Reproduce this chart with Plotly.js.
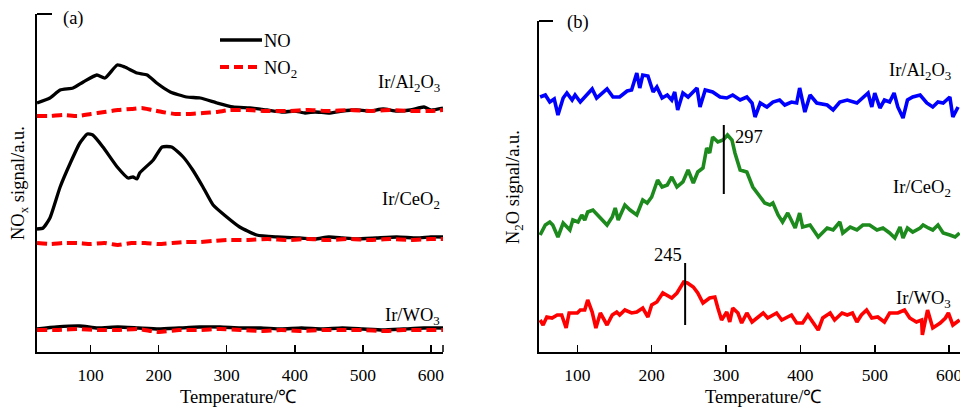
<!DOCTYPE html>
<html>
<head>
<meta charset="utf-8">
<script src="https://cdn.plot.ly/plotly-3.0.1.min.js"></script>
<style>
html,body{margin:0;padding:0;overflow:hidden;background:#fff;width:960px;height:407px;}
#chart{width:1000px;height:407px;}
</style>
</head>
<body>
<div id="chart"></div>
<script>
// ---------- Panel (a): NOx signal (a.u., stacked with offsets) vs temperature (°C) ----------
const tNO_Al = [21,40,55,74,89,109,121,139,150,168,183,197,217,241,261,286,309,334,359,383,400,415,430,450,470,490,510,530,550,570,590,600,618];
const vNO_Al = [249,254,262,264,270,277,274,287,285,279,277,269,260,255,254,249,245,244,242,240,241,239,240,239,241,242,241,243,241,242,245,242,244];
const tNO2_Al = [21,40,60,80,100,120,140,160,175,190,205,225,245,265,285,305,330,360,390,420,450,480,510,540,570,600,618];
const vNO2_Al = [236,236,237,236,238,240,242,243,244,242,240,238,238,239,240,242,242,241,241,242,241,242,241,242,241,241,242];

const tNO_Ce = [21,30,40,55,70,84,95,103,118,139,155,162,168,172,192,205,219,236,250,265,280,300,319,344,374,407,430,450,470,490,520,550,580,600,618];
const vNO_Ce = [123,124,134,165,189,209,218,217,205,185,174,175,173,179,192,205,205,195,182,165,147,135,125,117,115,114,113,115,114,113,114,115,114,115,115];
const tNO2_Ce = [21,40,60,80,100,120,140,160,180,200,220,240,260,280,300,330,360,390,420,450,480,510,540,570,600,618];
const vNO2_Ce = [109,108,109,109,108,109,107,109,109,108,109,110,110,111,112,112,113,112,113,112,113,112,113,112,113,113];

const tNO_W = [21,50,84,110,140,170,200,230,260,290,320,350,380,410,440,470,500,530,560,590,618];
const vNO_W = [23,25,26,24,25,24,23,24,25,25,24,24,23,24,23,24,23,22,23,24,24];
const tNO2_W = [21,50,80,110,140,170,200,230,260,290,320,350,380,410,440,470,500,530,560,590,618];
const vNO2_W = [22,22,23,22,22,23,20,22,22,23,22,21,22,21,22,22,22,21,22,22,22];

// ---------- Panel (b): N2O signal (a.u., stacked) vs temperature (°C) ----------
const tAl = [50,57,63,69,74,81,86,93,97,104,120,126,140,148,157,167,173,180,184,188,195,202,207,214,221,227,231,235,242,249,261,265,272,282,292,301,309,319,328,335,339,346,355,363,372,379,388,395,399,406,413,422,436,444,453,463,476,484,491,496,500,507,513,520,526,531,538,544,551,561,570,578,585,592,601,605,612];
const vAl = [255,257,250,253,237,254,259,252,257,250,263,254,263,255,255,261,262,279,264,277,276,260,265,254,257,252,260,242,259,255,264,245,262,260,255,254,257,252,255,249,235,249,245,250,252,247,250,249,264,240,257,249,247,242,250,252,249,254,259,245,259,244,252,250,259,245,234,252,255,257,249,245,250,249,255,235,245];

const tCe = [50,57,63,67,74,81,90,94,101,106,110,114,121,131,140,147,151,155,164,171,180,188,194,200,208,214,221,227,234,242,249,256,262,269,274,278,282,289,296,302,308,312,319,328,336,346,352,359,363,370,376,383,393,399,403,413,424,436,444,453,457,467,476,484,493,503,511,520,527,534,538,544,551,561,565,572,578,585,592,601,608,614];
const vCe = [117,127,130,127,115,129,122,132,130,137,132,140,142,134,127,135,144,132,147,142,137,152,149,155,172,165,167,175,165,170,182,169,180,184,204,199,215,210,212,217,212,199,182,180,165,155,149,147,149,137,130,139,124,139,125,127,115,124,122,130,119,125,122,127,127,122,124,119,114,125,114,124,120,124,127,124,122,127,119,117,115,119];

const tW = [50,54,59,66,73,79,85,89,100,104,110,114,120,125,131,140,147,153,157,164,173,180,188,195,200,207,215,227,234,243,248,256,262,269,278,285,289,294,301,305,309,316,321,328,335,341,350,356,368,375,388,395,403,410,417,424,430,440,446,456,463,470,476,482,489,496,504,513,520,531,540,547,556,563,564,571,578,588,595,599,605,614];
const vW = [32,27,35,34,37,37,24,39,39,42,42,52,40,24,39,27,37,40,37,42,39,40,44,35,47,50,59,54,59,70,69,65,59,49,54,55,44,32,40,30,44,39,29,39,30,34,39,34,39,32,37,29,29,37,30,22,34,39,32,39,37,39,30,37,42,34,35,30,39,39,42,34,30,32,17,42,24,29,34,39,27,32];

const xTicks = [100,200,300,400,500,600];
const peakCe = 297, peakW = 245;

// ---------- figure ----------
const W = 1000, H = 407;
const px = v => v / W;
const py = v => (H - v) / H;
const FONT = "Liberation Serif, Times New Roman, serif";
const RED = "#ff0000", GREEN = "#1d8a1d", BLUE = "#0000ff";

function solidA(x, y){ return {x, y, xaxis:'x', yaxis:'y', mode:'lines', line:{color:'#000', width:3.3, shape:'spline', smoothing:0.5}, hoverinfo:'skip'}; }
function dashA(x, y){ return {x, y, xaxis:'x', yaxis:'y', mode:'lines', line:{color:RED, width:4, dash:'10px,5px', shape:'spline', smoothing:0.5}, hoverinfo:'skip'}; }
function lineB(x, y, c){ return {x, y, xaxis:'x2', yaxis:'y2', mode:'lines', line:{color:c, width:3.6}, hoverinfo:'skip'}; }

const data = [
  solidA(tNO_Al, vNO_Al), dashA(tNO2_Al, vNO2_Al),
  solidA(tNO_Ce, vNO_Ce), dashA(tNO2_Ce, vNO2_Ce),
  solidA(tNO_W, vNO_W), dashA(tNO2_W, vNO2_W),
  lineB(tAl, vAl, BLUE), lineB(tCe, vCe, GREEN), lineB(tW, vW, RED)
];

const xbase = {
  showline:true, linecolor:'#000', linewidth:2, showgrid:false, zeroline:false,
  ticks:'inside', ticklen:7, tickwidth:1.5, tickcolor:'#000',
  tickvals:xTicks, ticktext:xTicks.map(String),
  tickfont:{family:FONT, size:17.5, color:'#000'}, ticklabelstandoff:6,
  fixedrange:true
};
const ybase = {showline:true, linecolor:'#000', linewidth:2, showgrid:false, zeroline:false, ticks:'', showticklabels:false, fixedrange:true};

const annFont = {family:FONT, size:18.5, color:'#000'};
const ann = (o) => Object.assign({showarrow:false, font:annFont}, o);

const layout = {
  width:W, height:H, margin:{l:0, r:0, t:0, b:0},
  paper_bgcolor:'#fff', plot_bgcolor:'rgba(0,0,0,0)', showlegend:false,
  xaxis: Object.assign({}, xbase, {domain:[px(37), px(443)], range:[21, 618], anchor:'y'}),
  yaxis: Object.assign({}, ybase, {domain:[py(352), py(14)], range:[0, 338], anchor:'x'}),
  xaxis2: Object.assign({}, xbase, {domain:[px(539), px(964)], range:[48.5, 620], anchor:'y2'}),
  yaxis2: Object.assign({}, ybase, {domain:[py(352), py(21)], range:[0, 331], anchor:'x2'}),
  shapes: [
    // top caps of y axes
    {type:'line', xref:'paper', yref:'paper', x0:px(37), x1:px(52), y0:py(14), y1:py(14), line:{color:'#000', width:2}},
    {type:'line', xref:'paper', yref:'paper', x0:px(539), x1:px(553), y0:py(21), y1:py(21), line:{color:'#000', width:2}},
    // right end cap of axis (a)
    {type:'line', xref:'paper', yref:'paper', x0:px(443), x1:px(443), y0:py(352), y1:py(345), line:{color:'#000', width:1.5}},
    // legend samples
    {type:'line', xref:'paper', yref:'paper', x0:px(220), x1:px(262), y0:py(40), y1:py(40), line:{color:'#000', width:3.3}},
    {type:'line', xref:'paper', yref:'paper', x0:px(220), x1:px(262), y0:py(67), y1:py(67), line:{color:RED, width:4, dash:'9px,5px'}},
    // peak markers
    {type:'line', xref:'x2', yref:'y2', x0:peakCe, x1:peakCe, y0:158, y1:227, line:{color:'#000', width:2}},
    {type:'line', xref:'x2', yref:'y2', x0:peakW, x1:peakW, y0:27, y1:89, line:{color:'#000', width:2}}
  ],
  annotations: [
    ann({text:'(a)', xref:'paper', yref:'paper', x:px(61), y:py(18), xanchor:'left', yanchor:'middle'}),
    ann({text:'(b)', xref:'paper', yref:'paper', x:px(565), y:py(22), xanchor:'left', yanchor:'middle'}),
    ann({text:'NO', xref:'paper', yref:'paper', x:px(262), y:py(41), xanchor:'left', yanchor:'middle'}),
    ann({text:'NO<sub>2</sub>', xref:'paper', yref:'paper', x:px(262), y:py(69), xanchor:'left', yanchor:'middle'}),
    ann({text:'NO<sub>x</sub> signal/a.u.', xref:'paper', yref:'paper', x:px(19), y:py(183), textangle:-90, xanchor:'center', yanchor:'middle'}),
    ann({text:'N<sub>2</sub>O signal/a.u.', xref:'paper', yref:'paper', x:px(514), y:py(187), textangle:-90, xanchor:'center', yanchor:'middle'}),
    ann({text:'Temperature/℃', xref:'paper', yref:'paper', x:px(238), y:py(397), xanchor:'center', yanchor:'middle'}),
    ann({text:'Temperature/℃', xref:'paper', yref:'paper', x:px(763), y:py(397), xanchor:'center', yanchor:'middle'}),
    ann({text:'Ir/Al<sub>2</sub>O<sub>3</sub>', xref:'x', yref:'y', x:616, y:268, xanchor:'right', yanchor:'middle'}),
    ann({text:'Ir/CeO<sub>2</sub>', xref:'x', yref:'y', x:616, y:151, xanchor:'right', yanchor:'middle'}),
    ann({text:'Ir/WO<sub>3</sub>', xref:'x', yref:'y', x:616, y:36, xanchor:'right', yanchor:'middle'}),
    ann({text:'Ir/Al<sub>2</sub>O<sub>3</sub>', xref:'x2', yref:'y2', x:605, y:281, xanchor:'right', yanchor:'middle'}),
    ann({text:'Ir/CeO<sub>2</sub>', xref:'x2', yref:'y2', x:605, y:164, xanchor:'right', yanchor:'middle'}),
    ann({text:'Ir/WO<sub>3</sub>', xref:'x2', yref:'y2', x:605, y:53, xanchor:'right', yanchor:'middle'}),
    ann({text:String(peakCe), xref:'x2', yref:'y2', x:peakCe + 12, y:215, xanchor:'left', yanchor:'middle'}),
    ann({text:String(peakW), xref:'x2', yref:'y2', x:peakW - 23, y:97, xanchor:'center', yanchor:'middle'})
  ]
};

Plotly.newPlot('chart', data, layout, {staticPlot:true, displayModeBar:false});
</script>
</body>
</html>
